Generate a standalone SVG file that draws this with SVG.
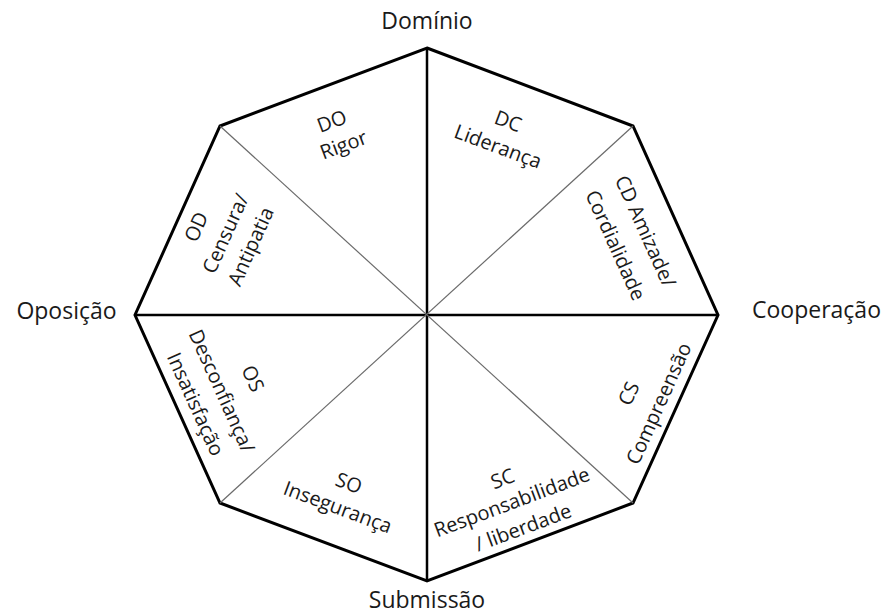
<svg xmlns="http://www.w3.org/2000/svg" width="889" height="616" viewBox="0 0 889 616">
<style>
.t{font-family:"Open Sans","Liberation Sans",sans-serif;font-size:20px;fill:#1a1a1a;text-anchor:middle;dominant-baseline:central}
.ax{font-family:"Open Sans","Liberation Sans",sans-serif;font-size:23px;fill:#1a1a1a;text-anchor:middle}
.outline{fill:#fff;stroke:#000;stroke-width:3;stroke-linejoin:miter}
.axis{stroke:#000;stroke-width:2.5}
.diag{stroke:#6a6a6a;stroke-width:1.2}
</style>
<rect width="889" height="616" fill="#fff"/>
<g id="octagon">
<polygon class="outline" points="427,48 633,126 718,315 633,503 427,581 220,503 135,315 220,126"/>
</g>
<g id="connectors">
<line class="axis" x1="427" y1="48" x2="427" y2="581"/>
<line class="axis" x1="135" y1="315" x2="718" y2="315"/>
<line class="diag" x1="220" y1="126" x2="633" y2="503"/>
<line class="diag" x1="633" y1="126" x2="220" y2="503"/>
</g>
<g id="axis-labels">
<text class="ax" x="427" y="28.5">Domínio</text>
<text class="ax" x="427" y="608">Submissão</text>
<text class="ax" x="66.5" y="319">Oposição</text>
<text class="ax" x="816.5" y="318">Cooperação</text>
</g>
<g id="DO">
<text class="t" transform="translate(331.7,120.7) rotate(-20.5)">DO</text>
<text class="t" transform="translate(343.4,144.3) rotate(-20.5)">Rigor</text>
</g>
<g id="DC">
<text class="t" transform="translate(508.3,120.7) rotate(20.5)">DC</text>
<text class="t" transform="translate(498.2,146) rotate(20.5)">Liderança</text>
</g>
<g id="CD">
<text class="t" transform="translate(646,231) rotate(65.8)">CD Amizade/</text>
<text class="t" transform="translate(616,245) rotate(65.8)">Cordialidade</text>
</g>
<g id="CS">
<text class="t" transform="translate(628.3,393.3) rotate(-65.8)">CS</text>
<text class="t" transform="translate(658.3,403.3) rotate(-65.8)">Compreensão</text>
</g>
<g id="SC">
<text class="t" transform="translate(502.5,478.3) rotate(-20.5)">SC</text>
<text class="t" transform="translate(511.6,501.7) rotate(-20.5)">Responsabilidade</text>
<text class="t" transform="translate(523,527) rotate(-20.5)">/ liberdade</text>
</g>
<g id="SO">
<text class="t" transform="translate(349,482.5) rotate(20.5)">SO</text>
<text class="t" transform="translate(338,506.7) rotate(20.5)">Insegurança</text>
</g>
<g id="OS">
<text class="t" transform="translate(253.3,378.3) rotate(65.8)">OS</text>
<text class="t" transform="translate(222.3,390.7) rotate(65.8)">Desconfiança/</text>
<text class="t" transform="translate(196,404) rotate(65.8)">Insatisfação</text>
</g>
<g id="OD">
<text class="t" transform="translate(195.7,226.7) rotate(-65.8)">OD</text>
<text class="t" transform="translate(225,233.3) rotate(-65.8)">Censura/</text>
<text class="t" transform="translate(250.2,246.3) rotate(-65.8)">Antipatia</text>
</g>
</svg>
